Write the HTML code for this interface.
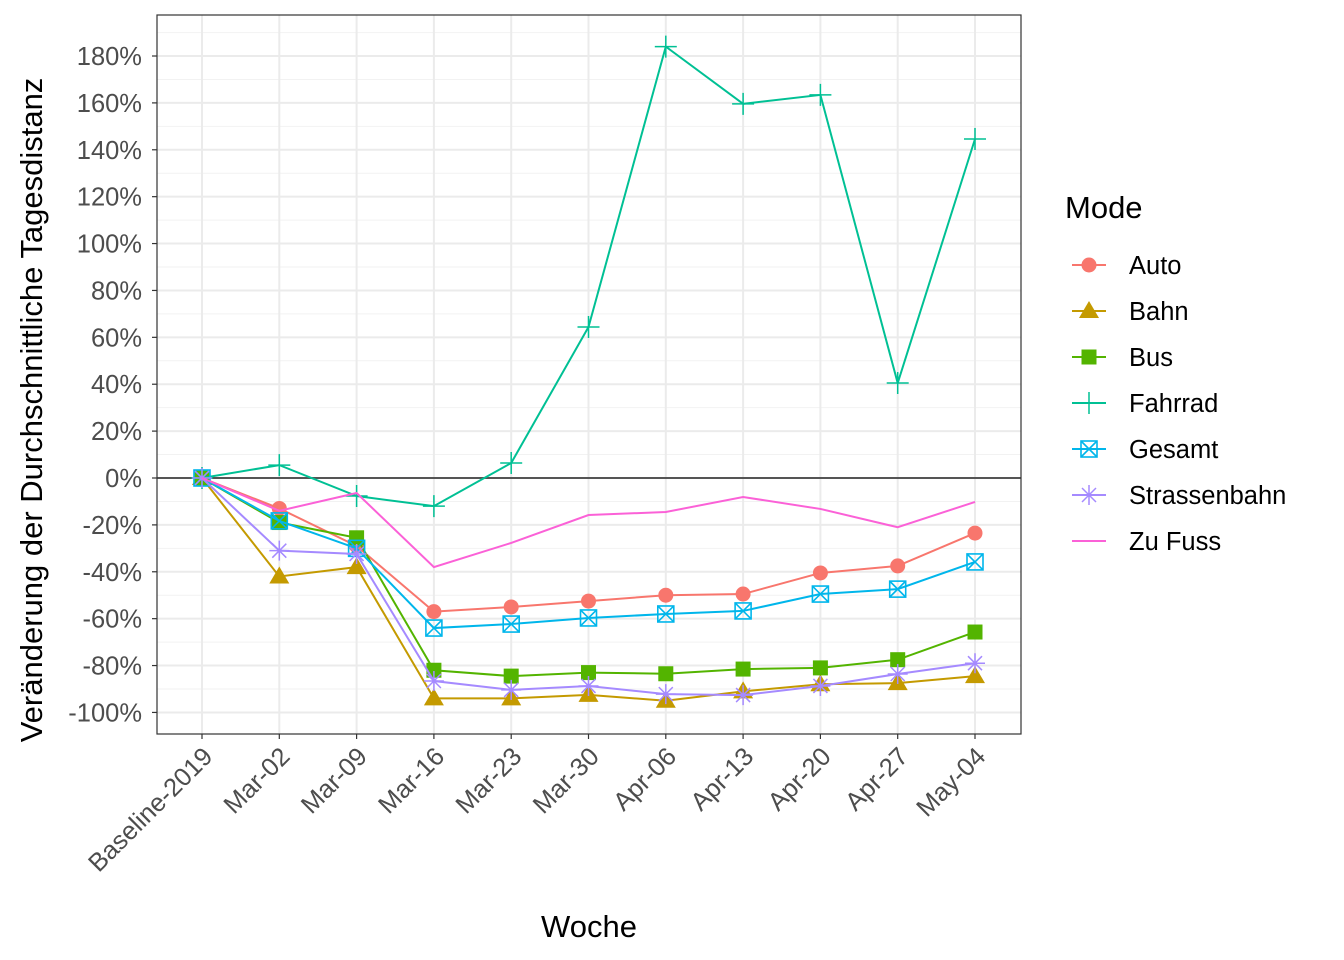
<!DOCTYPE html>
<html><head><meta charset="utf-8"><style>body{margin:0;background:#fff}svg{display:block;font-family:"Liberation Sans",Arial,sans-serif}</style></head>
<body>
<svg id="chart" width="1344" height="960"></svg>
<script>
const categories=["Baseline-2019","Mar-02","Mar-09","Mar-16","Mar-23","Mar-30","Apr-06","Apr-13","Apr-20","Apr-27","May-04"];
const seriesNames=["Auto","Bahn","Bus","Fahrrad","Gesamt","Strassenbahn","Zu Fuss"];
const auto=[0,-13,-29,-57,-55,-52.5,-50,-49.5,-40.5,-37.5,-23.5];
const bahn=[0,-42,-38,-94,-94,-92.5,-95,-91,-88,-87.5,-84.5];
const bus=[0,-19,-25.5,-82,-84.5,-83,-83.5,-81.5,-81,-77.5,-65.7];
const fahrrad=[0,5.5,-7.7,-12,6.4,64.4,184,159.6,163.4,40.5,144.6];
const gesamt=[0,-18.3,-30,-64,-62.3,-59.7,-58,-56.7,-49.5,-47.4,-35.8];
const strassenbahn=[0,-31,-32.4,-86.6,-90.4,-88.7,-92.2,-92.6,-88.7,-83.6,-79];
const zuFuss=[0,-14,-6.4,-38,-27.7,-15.8,-14.5,-8.1,-13.2,-21,-10.2];
const yTicks=[-100,-80,-60,-40,-20,0,20,40,60,80,100,120,140,160,180];
const colors=["#F8766D","#C49A00","#53B400","#00C094","#00B6EB","#A58AFF","#FB61D7"];
const shapes=["circle","triangle","square","plus","boxx","star","none"];
const allSeries=[auto,bahn,bus,fahrrad,gesamt,strassenbahn,zuFuss];

const svg=document.getElementById('chart');const NS="http://www.w3.org/2000/svg";
const L=157,R=1021,T=15,B=734;
const x=i=>202+i*(975-202)/(categories.length-1);
const y=v=>478-v*2.3444;
function mk(tag,attrs,parent){const e=document.createElementNS(NS,tag);for(const k in attrs)e.setAttribute(k,attrs[k]);(parent||svg).appendChild(e);return e;}
const grid=mk('g',{});


for(let v=-110;v<=190;v+=20){if(y(v)>T&&y(v)<B)mk('line',{x1:L,x2:R,y1:y(v),y2:y(v),stroke:'#f2f2f2','stroke-width':1},grid);}
yTicks.forEach(v=>mk('line',{x1:L,x2:R,y1:y(v),y2:y(v),stroke:'#ebebeb','stroke-width':2},grid));
categories.forEach((c,i)=>mk('line',{x1:x(i),x2:x(i),y1:T,y2:B,stroke:'#ebebeb','stroke-width':2},grid));
const zl=mk('line',{x1:L,x2:R,y1:y(0),y2:y(0),stroke:'#555','stroke-width':2});


function marker(shape,cx,cy,col,g){
 if(shape==='circle')mk('circle',{cx,cy,r:7.5,fill:col},g);
 else if(shape==='triangle')mk('polygon',{points:`${cx},${cy-10} ${cx+10},${cy+7} ${cx-10},${cy+7}`,fill:col},g);
 else if(shape==='square')mk('rect',{x:cx-7.5,y:cy-7.5,width:15,height:15,fill:col},g);
 else if(shape==='plus'){mk('path',{d:`M${cx-11},${cy}H${cx+11}M${cx},${cy-11}V${cy+11}`,stroke:col,'stroke-width':1.5},g);}
 else if(shape==='boxx'){mk('rect',{x:cx-8,y:cy-8,width:16,height:16,fill:'none',stroke:col,'stroke-width':1.6},g);mk('path',{d:`M${cx-8},${cy-8}L${cx+8},${cy+8}M${cx+8},${cy-8}L${cx-8},${cy+8}`,stroke:col,'stroke-width':1.6},g);}
 else if(shape==='star'){mk('path',{d:`M${cx-10},${cy}H${cx+10}M${cx},${cy-10}V${cy+10}M${cx-7},${cy-7}L${cx+7},${cy+7}M${cx+7},${cy-7}L${cx-7},${cy+7}`,stroke:col,'stroke-width':1.5},g);}
}
allSeries.forEach((s,k)=>{
 const g=mk('g',{});
 
 
 mk('polyline',{points:s.map((v,i)=>x(i)+','+y(v)).join(' '),fill:'none',stroke:colors[k],'stroke-width':2},g);
 s.forEach((v,i)=>marker(shapes[k],x(i),y(v),colors[k],g));
});
mk('rect',{x:L,y:T,width:R-L,height:B-T,fill:'none',stroke:'#333','stroke-width':1.2});
const ya=mk('g',{});


yTicks.forEach(v=>{mk('line',{x1:L-5,x2:L,y1:y(v),y2:y(v),stroke:'#333','stroke-width':1.2},ya);const t=mk('text',{x:L-15,y:y(v)+9,'text-anchor':'end','font-size':25.5,fill:'#4d4d4d'},ya);t.textContent=v+'%';});
const xa=mk('g',{});


categories.forEach((c,i)=>{mk('line',{x1:x(i),x2:x(i),y1:B,y2:B+5,stroke:'#333','stroke-width':1.2},xa);const t=mk('text',{x:x(i)+12,y:B+24,'text-anchor':'end','font-size':25.5,fill:'#4d4d4d',transform:`rotate(-45 ${x(i)+12} ${B+24})`},xa);t.textContent=c;});
const xt=mk('text',{x:589,y:937,'text-anchor':'middle','font-size':31,fill:'#000'});xt.textContent='Woche';


const yt=mk('text',{x:42,y:410,'text-anchor':'middle','font-size':31,fill:'#000',transform:'rotate(-90 42 410)'});yt.textContent='Veränderung der Durchschnittliche Tagesdistanz';


const lg=mk('g',{});


const lt=mk('text',{x:1065,y:218,'font-size':31,fill:'#000'},lg);lt.textContent='Mode';
seriesNames.forEach((n,k)=>{
 const cy=265+k*46;
 const e=mk('g',{},lg);
 
 
 mk('line',{x1:1072,x2:1106,y1:cy,y2:cy,stroke:colors[k],'stroke-width':2},e);
 marker(shapes[k],1089,cy,colors[k],e);
 const t=mk('text',{x:1129,y:cy+9,'font-size':25.5,fill:'#000'},e);t.textContent=n;
});
</script>
</body></html>
